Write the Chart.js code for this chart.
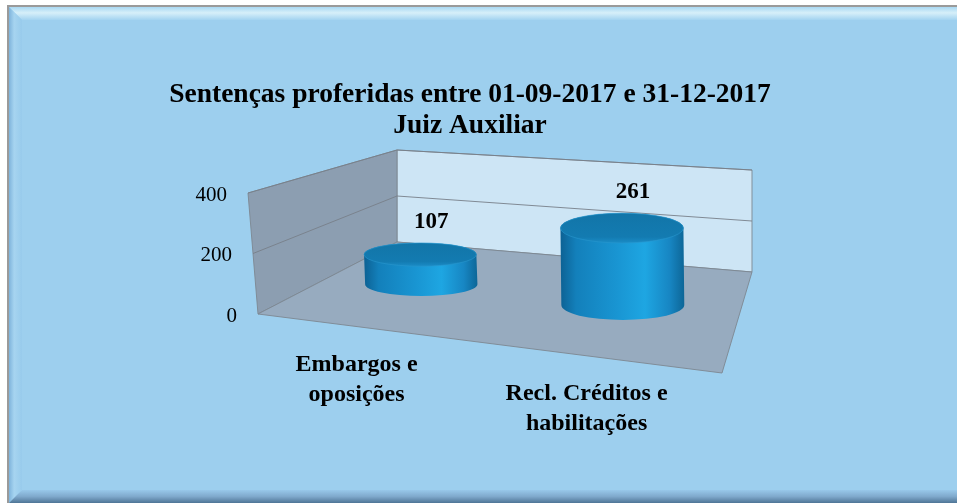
<!DOCTYPE html>
<html><head><meta charset="utf-8">
<script src="https://cdn.jsdelivr.net/npm/chart.js@4/dist/chart.umd.min.js"></script>
<style>html,body{margin:0;padding:0;background:#fff}#wrap{width:957px;height:503px;position:relative}</style>
</head><body><div id="wrap"><canvas id="c" width="957" height="503"></canvas></div>
<script>
// ---- data ----
const titleLines = ['Sentenças proferidas entre 01-09-2017 e 31-12-2017', 'Juiz Auxiliar'];
const categories = ['Embargos e oposições', 'Recl. Créditos e habilitações'];
const categoryLines = [['Embargos e', 'oposições'], ['Recl. Créditos e', 'habilitações']];
const values = [107, 261];
const yMin = 0, yMax = 400, yStep = 200;

// ---- 3D projection (style / layout) ----
const FL = [258, 314], FR = [722, 373], BR = [752, 272], BL = [397, 242];
const HFL = 121, HFR = 139, HBL = 92, HBR = 102;
const LFL = -10, LFR = 0, LBL = 0, LBR = 0;
const BAR_DEPTH = 0.47, RADIUS0 = 62;

function homography(p0, p1, p2, p3) {
  const dx1 = p1[0] - p2[0], dx2 = p3[0] - p2[0], dx3 = p0[0] - p1[0] + p2[0] - p3[0];
  const dy1 = p1[1] - p2[1], dy2 = p3[1] - p2[1], dy3 = p0[1] - p1[1] + p2[1] - p3[1];
  const den = dx1 * dy2 - dx2 * dy1;
  const g = (dx3 * dy2 - dx2 * dy3) / den;
  const h = (dx1 * dy3 - dx3 * dy1) / den;
  const a = p1[0] - p0[0] + g * p1[0], b = p3[0] - p0[0] + h * p3[0], c = p0[0];
  const d = p1[1] - p0[1] + g * p1[1], e = p3[1] - p0[1] + h * p3[1], f = p0[1];
  return (u, v) => {
    const w = g * u + h * v + 1;
    return { x: (a * u + b * v + c) / w, y: (d * u + e * v + f) / w, w };
  };
}
const floorMap = homography(FL, FR, BR, BL);
const bil = (u, d, fl, fr, bl, br) => (1 - u) * (1 - d) * fl + u * (1 - d) * fr + (1 - u) * d * bl + u * d * br;
function proj(u, d, hf) {
  const p = floorMap(u, d);
  const H = bil(u, d, HFL, HFR, HBL, HBR);
  const L = bil(u, d, LFL, LFR, LBL, LBR);
  return { x: p.x + L * hf, y: p.y - H * hf, w: p.w };
}
function poly(ctx, pts, fill, stroke) {
  ctx.beginPath();
  pts.forEach((p, i) => i ? ctx.lineTo(p.x, p.y) : ctx.moveTo(p.x, p.y));
  ctx.closePath();
  if (fill) { ctx.fillStyle = fill; ctx.fill(); }
  if (stroke) { ctx.strokeStyle = stroke; ctx.lineWidth = 1; ctx.stroke(); }
}
function line(ctx, a, b, color) {
  ctx.beginPath(); ctx.moveTo(a.x, a.y); ctx.lineTo(b.x, b.y);
  ctx.strokeStyle = color; ctx.lineWidth = 1; ctx.stroke();
}

const framePlugin = {
  id: 'frame',
  beforeDraw(chart) {
    const ctx = chart.ctx, W = chart.width, H = chart.height;
    ctx.save();
    ctx.fillStyle = '#ffffff'; ctx.fillRect(0, 0, W, H);
    ctx.fillStyle = '#9a9a9a'; ctx.fillRect(7, 5, W - 7, H - 5);
    ctx.fillStyle = '#9dcfee'; ctx.fillRect(9, 7, W - 9, H - 7);
    const bw = 13;
    let g = ctx.createLinearGradient(0, 7, 0, 7 + bw);
    g.addColorStop(0, '#a9d8f2'); g.addColorStop(0.45, '#d6eff9'); g.addColorStop(1, '#a3d3f0');
    ctx.fillStyle = g; ctx.beginPath();
    ctx.moveTo(9, 7); ctx.lineTo(W, 7); ctx.lineTo(W, 7 + bw); ctx.lineTo(9 + bw, 7 + bw); ctx.closePath(); ctx.fill();
    g = ctx.createLinearGradient(9, 0, 9 + bw, 0);
    g.addColorStop(0, '#7fb4dc'); g.addColorStop(0.4, '#a6d4f0'); g.addColorStop(1, '#98cbec');
    ctx.fillStyle = g; ctx.beginPath();
    ctx.moveTo(9, 7); ctx.lineTo(9 + bw, 7 + bw); ctx.lineTo(9 + bw, H - bw); ctx.lineTo(9, H); ctx.closePath(); ctx.fill();
    g = ctx.createLinearGradient(0, H - bw, 0, H);
    g.addColorStop(0, '#98c8ea'); g.addColorStop(0.5, '#7fa9cc'); g.addColorStop(1, '#4f7596');
    ctx.fillStyle = g; ctx.beginPath();
    ctx.moveTo(9, H); ctx.lineTo(9 + bw, H - bw); ctx.lineTo(W, H - bw); ctx.lineTo(W, H); ctx.closePath(); ctx.fill();
    ctx.restore();
  }
};

const scene3dPlugin = {
  id: 'scene3d',
  afterDatasetsDraw(chart) {
    const ctx = chart.ctx, xs = chart.scales.x, ys = chart.scales.y, ca = chart.chartArea;
    const hfOf = v => (ys.bottom - ys.getPixelForValue(v)) / (ys.bottom - ys.top);
    const uOf = i => (xs.getPixelForValue(i) - ca.left) / (ca.right - ca.left);
    ctx.save();
    const edge = 'rgba(125,135,145,0.9)';
    poly(ctx, [proj(0, 1, 0), proj(1, 1, 0), proj(1, 1, 1), proj(0, 1, 1)], '#cde5f5', edge);
    poly(ctx, [proj(0, 0, 0), proj(0, 1, 0), proj(0, 1, 1), proj(0, 0, 1)], '#8c9eb1', edge);
    poly(ctx, [proj(0, 0, 0), proj(1, 0, 0), proj(1, 1, 0), proj(0, 1, 0)], '#97abbf', edge);
    ys.ticks.forEach(t => {
      const hf = hfOf(t.value);
      if (hf <= 0) return;
      line(ctx, proj(0, 0, hf), proj(0, 1, hf), 'rgba(120,128,138,0.9)');
      line(ctx, proj(0, 1, hf), proj(1, 1, hf), 'rgba(120,128,138,0.9)');
    });
    ctx.font = '21px "Liberation Serif", serif';
    ctx.fillStyle = '#000'; ctx.textAlign = 'right'; ctx.textBaseline = 'middle';
    ys.ticks.forEach(t => {
      const p = proj(0, 0, hfOf(t.value));
      ctx.fillText(String(t.label), p.x - 21, p.y + 2);
    });
    values.forEach((v, i) => {
      const u = uOf(i);
      const B = proj(u, BAR_DEPTH, 0), T = proj(u, BAR_DEPTH, hfOf(v));
      const rx = RADIUS0 / B.w, ry = rx * (0.19 + 0.07 * u);
      const g = ctx.createLinearGradient(B.x - rx, 0, B.x + rx, 0);
      g.addColorStop(0, '#0d6396'); g.addColorStop(0.12, '#1380bb'); g.addColorStop(0.45, '#1995d2');
      g.addColorStop(0.68, '#1ea6e2'); g.addColorStop(0.88, '#1786c3'); g.addColorStop(1, '#0d6697');
      ctx.beginPath();
      ctx.moveTo(T.x - rx, T.y);
      ctx.lineTo(B.x - rx, B.y);
      ctx.ellipse(B.x, B.y, rx, ry, 0, Math.PI, 0, true);
      ctx.lineTo(T.x + rx, T.y);
      ctx.ellipse(T.x, T.y, rx, ry, 0, 0, Math.PI, true);
      ctx.closePath();
      ctx.fillStyle = g; ctx.fill();
      ctx.beginPath();
      ctx.ellipse(T.x, T.y, rx, ry, 0, 0, Math.PI * 2);
      const tg = ctx.createLinearGradient(0, T.y - ry, 0, T.y + ry);
      tg.addColorStop(0, '#1275a8'); tg.addColorStop(0.8, '#137bb1'); tg.addColorStop(1, '#1a8cc6');
      ctx.fillStyle = tg; ctx.fill();
      ctx.strokeStyle = 'rgba(40,150,205,0.6)'; ctx.lineWidth = 1; ctx.stroke();
      ctx.font = 'bold 23px "Liberation Serif", serif';
      ctx.fillStyle = '#000'; ctx.textAlign = 'center'; ctx.textBaseline = 'middle';
      ctx.fillText(String(v), T.x + 11, T.y - ry - 21);
    });
    ctx.font = 'bold 24px "Liberation Serif", serif';
    ctx.fillStyle = '#000'; ctx.textAlign = 'center'; ctx.textBaseline = 'middle';
    categoryLines.forEach((lines, i) => {
      const p = proj(uOf(i), 0, 0);
      lines.forEach((s, k) => ctx.fillText(s, p.x, p.y + 38 + k * 30));
    });
    ctx.font = 'bold 27.5px "Liberation Serif", serif';
    ctx.textBaseline = 'alphabetic';
    ctx.fillText(titleLines[0], 470, 102);
    ctx.fillText(titleLines[1], 470, 133);
    ctx.restore();
  }
};

new Chart(document.getElementById('c'), {
  type: 'bar',
  data: {
    labels: categories,
    datasets: [{ data: values, backgroundColor: 'rgba(0,0,0,0)', borderWidth: 0 }]
  },
  options: {
    responsive: false,
    devicePixelRatio: 1,
    animation: false,
    layout: { padding: { left: 258, right: 235, top: 193, bottom: 189 } },
    plugins: { legend: { display: false }, title: { display: false }, tooltip: { enabled: false } },
    scales: {
      x: { display: false, offset: true },
      y: { display: false, min: yMin, max: yMax, ticks: { stepSize: yStep } }
    }
  },
  plugins: [framePlugin, scene3dPlugin]
});
</script>
</body></html>
